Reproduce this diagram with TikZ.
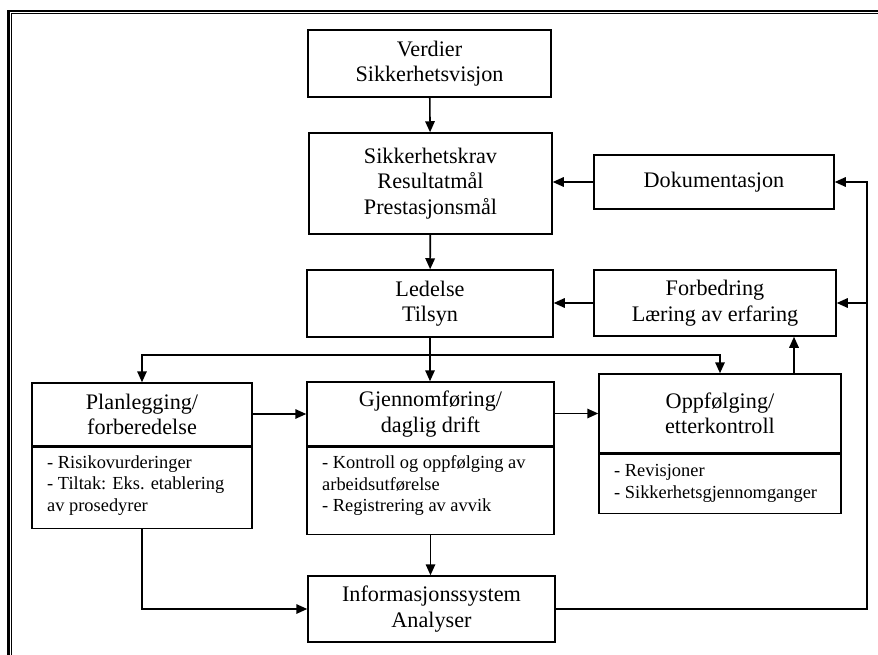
\documentclass[tikz,border=0pt]{standalone}
\usepackage{fontspec}
\setmainfont{Liberation Serif}
\usetikzlibrary{arrows.meta}
\newcommand\headsize{\fontsize{22.2pt}{25.5pt}\selectfont}
\newcommand\listsize{\fontsize{18.4pt}{21.5pt}\selectfont}
\begin{document}
\begin{tikzpicture}[x=1pt,y=-1pt,
  box/.style={draw, line width=1.5pt, inner sep=0pt, align=center, font=\headsize},
  listtext/.style={anchor=north west, inner sep=0pt, align=left, font=\listsize},
  link/.style={line width=1.6pt},
  arr/.style={link, -{Triangle[length=11pt,width=9.5pt]}}
]
\useasboundingbox (0,0) rectangle (878,655);
% double frame (top and left edges)
\draw[line width=2.2pt] (8.5,655) -- (8.5,11) -- (878,11);
\draw[line width=0.9pt] (11.8,655) -- (11.8,13.8) -- (878,13.8);

% main column
\node[box, minimum width=243pt, minimum height=67pt] (verdier) at (429.5,63.5) {Verdier\\Sikkerhetsvisjon};
\node[box, minimum width=243pt, minimum height=101pt] (krav) at (430.5,183.5) {Sikkerhetskrav\\Resultatmål\\Prestasjonsmål};
\node[box, minimum width=246pt, minimum height=67pt] (ledelse) at (430,303.5) {Ledelse\\Tilsyn};

% right column
\node[box, minimum width=240pt, minimum height=54pt] (dok) at (714,182) {Dokumentasjon};
\node[box, minimum width=242pt, minimum height=66pt] (forb) at (715,303) {Forbedring\\Læring av erfaring};

% process row: header + list part
\node[box, minimum width=220pt, minimum height=63pt] (plan) at (142,414.5) {Planlegging/\\forberedelse};
\node[box, minimum width=220pt, minimum height=81pt, anchor=north] (planbody) at (plan.south) {};
\node[listtext] (plantxt) at (47,455.4) {- Risikovurderinger\\- Tiltak: Eks. etablering\\av prosedyrer};

\node[box, minimum width=247pt, minimum height=64pt] (gjen) at (430.5,414) {Gjennomføring/\\daglig drift};
\node[box, minimum width=247pt, minimum height=87pt, anchor=north] (gjenbody) at (gjen.south) {};
\node[listtext] (gjentxt) at (322,455.4) {- Kontroll og oppfølging av\\arbeidsutførelse\\- Registrering av avvik};

\node[box, minimum width=242pt, minimum height=79pt] (opp) at (720,413.5) {Oppfølging/\\etterkontroll};
\node[box, minimum width=242pt, minimum height=59pt, anchor=north] (oppbody) at (opp.south) {};
\node[listtext] (opptxt) at (614,464.4) {- Revisjoner\\- Sikkerhetsgjennomganger};

\node[box, minimum width=247pt, minimum height=66pt] (info) at (431.5,609) {Informasjonssystem\\Analyser};

% routing points
\coordinate (fork) at (430,355);
\coordinate (rail) at (867,608);
\coordinate (up) at (794,0);

% connectors
\draw[arr] (verdier) -- (krav);
\draw[arr] (krav) -- (ledelse);
\draw[arr] (dok.west) -- (dok.west -| krav.east);
\draw[arr] (forb.west) -- (forb.west -| ledelse.east);
\draw[arr] (ledelse.south -| fork) -- (gjen.north -| fork);
\draw[arr] (fork) -| (plan.north);
\draw[arr] (fork) -| (opp.north);
\draw[arr] (plan.east |- gjen.west) -- (gjen.west);
\draw[arr] (gjen.east |- opp.west) -- (opp.west);
\draw[arr] (opp.north -| up) -- (forb.south -| up);
\draw[arr] (planbody.south) |- (info.west);
\draw[arr] (gjenbody.south) -- (info.north -| gjenbody.south);
\draw[arr] (info.east) -| (rail |- dok.east) -- (dok.east);
\draw[arr] (rail |- forb.east) -- (forb.east);
\end{tikzpicture}
\end{document}
